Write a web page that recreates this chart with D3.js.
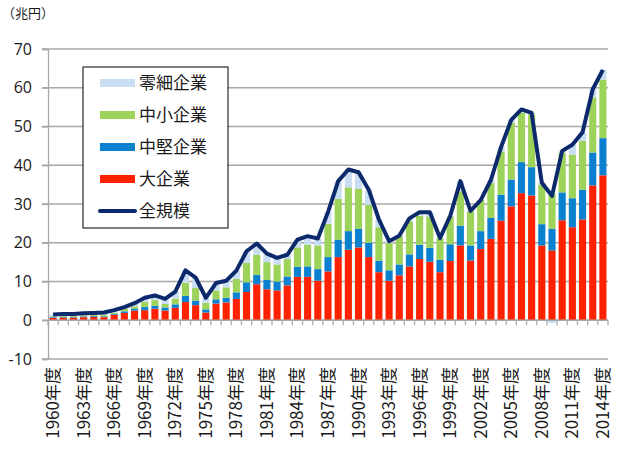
<!DOCTYPE html>
<html>
<head>
<meta charset="utf-8">
<script src="https://d3js.org/d3.v7.min.js"></script>
<style>
  body { margin: 0; background: #fff; }
  text { font-family: "Noto Sans CJK JP", "Noto Sans", sans-serif; fill: #1a1a1a; }
  .num { font-family: "Open Sans", "Noto Sans", sans-serif; }
</style>
</head>
<body>
<div id="chart"></div>
<script>
// fiscal years
const years = d3.range(1960, 2015);

// 兆円
const large = [0.6, 0.7, 0.7, 0.8, 0.9, 0.8, 1.4, 1.9, 2.5, 2.6,
  3.0, 2.5, 3.2, 4.7, 3.9, 2.0, 4.3, 4.6, 5.5, 7.3,
  9.3, 8.0, 7.7, 9.0, 11.2, 11.2, 10.2, 12.6, 16.3, 18.2,
  18.8, 16.3, 12.4, 10.2, 11.6, 13.9, 15.8, 15.1, 12.4, 15.3,
  19.3, 15.4, 18.4, 21.0, 25.7, 29.4, 32.8, 32.2, 19.3, 18.0,
  25.8, 24.0, 26.0, 34.8, 37.4];
const mid = [0.2, 0.2, 0.2, 0.2, 0.2, 0.2, 0.2, 0.4, 0.5, 0.8,
  0.7, 0.8, 0.9, 1.6, 1.2, 0.8, 1.1, 1.2, 1.7, 2.5,
  2.4, 2.4, 2.3, 2.3, 2.6, 2.7, 3.0, 3.7, 4.5, 4.8,
  4.8, 3.7, 3.0, 2.7, 2.8, 3.1, 3.7, 3.6, 3.2, 4.3,
  5.1, 3.9, 4.6, 5.4, 6.7, 6.9, 8.0, 7.3, 5.5, 5.6,
  7.2, 7.5, 7.7, 8.5, 9.6];
const small = [0.2, 0.2, 0.2, 0.3, 0.3, 0.4, 0.3, 0.6, 0.6, 1.3,
  1.5, 0.9, 1.5, 3.4, 3.2, 1.7, 2.3, 2.7, 3.5, 5.0,
  5.2, 4.6, 4.4, 4.5, 5.0, 5.6, 6.1, 8.6, 10.5, 11.3,
  10.3, 9.8, 8.6, 7.0, 7.3, 8.5, 7.5, 8.1, 5.5, 7.2,
  8.9, 8.8, 8.0, 9.0, 11.2, 14.6, 12.7, 13.6, 10.2, 9.2,
  10.2, 11.2, 12.6, 14.2, 15.1];
const micro = [0.5, 0.5, 0.5, 0.5, 0.5, 0.6, 0.7, 0.5, 0.8, 1.1,
  1.2, 1.3, 1.8, 3.2, 2.7, 1.3, 1.9, 1.7, 2.1, 3.0,
  2.9, 2.2, 1.7, 1.1, 2.0, 2.2, 1.8, 3.0, 4.6, 4.6,
  4.3, 3.9, 2.0, 0.5, 0.2, 0.8, 0.9, 1.1, 0.1, 0.1,
  2.6, 0.1, 0.0, 0.8, 1.1, 0.8, 0.9, 0.4, 0.5, -0.7,
  0.5, 2.6, 2.2, 2.1, 2.5];
const total = [1.5, 1.6, 1.6, 1.8, 1.9, 2.0, 2.6, 3.4, 4.4, 5.8,
  6.4, 5.5, 7.4, 12.9, 11.0, 5.8, 9.6, 10.2, 12.8, 17.8,
  19.8, 17.2, 16.1, 16.9, 20.8, 21.7, 21.1, 27.9, 35.9, 38.9,
  38.2, 33.7, 26.0, 20.4, 21.8, 26.3, 27.9, 27.9, 21.2, 26.9,
  35.9, 28.2, 31.0, 36.2, 44.7, 51.7, 54.4, 53.5, 35.5, 32.1,
  43.7, 45.3, 48.5, 59.6, 64.6];

const yTicks = [-10, 0, 10, 20, 30, 40, 50, 60, 70];
const keys = ['large', 'mid', 'small', 'micro'];
const names = { large: '大企業', mid: '中堅企業', small: '中小企業', micro: '零細企業' };
const colors = { large: '#ff2200', mid: '#0a80d0', small: '#9dd35a', micro: '#c9def2' };
const lineColor = '#0c2a6b';

const width = 620, height = 450;
const margin = { left: 48, right: 12, top: 49, bottom: 91 };

const svg = d3.select('#chart').append('svg')
    .attr('width', width)
    .attr('height', height);

const table = years.map((y, i) => ({
    year: y, large: large[i], mid: mid[i], small: small[i], micro: micro[i], total: total[i]
}));

const xScale = d3.scaleBand()
    .domain(years)
    .range([margin.left, width - margin.right])
    .paddingInner(0.3)
    .paddingOuter(0.15);

const yScale = d3.scaleLinear()
    .domain([-10, 70])
    .range([height - margin.bottom, margin.top]);

// gridlines
svg.append('g')
    .selectAll('line').data(yTicks)
    .enter().append('line')
    .attr('x1', margin.left - 6)
    .attr('x2', width - margin.right)
    .attr('y1', d => yScale(d))
    .attr('y2', d => yScale(d))
    .attr('stroke', '#a8a8a8')
    .attr('stroke-width', 1.3);

// y axis (plain hyphen for -10, like the original)
const yAxisG = svg.append('g')
    .attr('transform', `translate(${margin.left},0)`)
    .call(d3.axisLeft(yScale).tickValues(yTicks).tickSize(6).tickPadding(10).tickFormat(d => String(d)));
yAxisG.select('.domain').attr('stroke', '#a8a8a8').attr('stroke-width', 1.3);
yAxisG.selectAll('.tick line').attr('stroke', '#a8a8a8').attr('stroke-width', 1.3);
yAxisG.selectAll('.tick text')
    .attr('class', 'num')
    .style('font-size', '16px')
    .attr('fill', '#1a1a1a');

// stacked bars
const series = d3.stack()
    .keys(keys)
    .offset(d3.stackOffsetDiverging)(table);

svg.append('g')
    .selectAll('g').data(series)
    .enter().append('g')
    .attr('fill', d => colors[d.key])
    .selectAll('rect').data(d => d)
    .enter().append('rect')
    .attr('x', d => xScale(d.data.year))
    .attr('width', xScale.bandwidth())
    .attr('y', d => yScale(Math.max(d[0], d[1])))
    .attr('height', d => Math.abs(yScale(d[0]) - yScale(d[1])));

// zero axis with category ticks
const x0 = yScale(0);
const step = xScale.step();
const edges = years.map(y => xScale(y) - step * xScale.paddingInner() / 2).concat([width - margin.right]);
const xAxisG = svg.append('g');
xAxisG.append('line')
    .attr('x1', margin.left).attr('x2', width - margin.right)
    .attr('y1', x0).attr('y2', x0)
    .attr('stroke', '#a8a8a8').attr('stroke-width', 1.5);
xAxisG.selectAll('line.tk').data(edges)
    .enter().append('line')
    .attr('class', 'tk')
    .attr('x1', d => d).attr('x2', d => d)
    .attr('y1', x0).attr('y2', x0 + 5)
    .attr('stroke', '#a8a8a8').attr('stroke-width', 1.3);

// year labels every 3 years
svg.append('g')
    .selectAll('text').data(years.filter(y => (y - 1960) % 3 === 0))
    .enter().append('text')
    .attr('transform', d => `translate(${xScale(d) + xScale.bandwidth() / 2 + 6},${height - margin.bottom + 8}) rotate(-90)`)
    .attr('text-anchor', 'end')
    .style('font-size', '17px')
    .text(d => d + '年度');

// total line
const line = d3.line()
    .x(d => xScale(d.year) + xScale.bandwidth() / 2)
    .y(d => yScale(d.total));

svg.append('path')
    .datum(table)
    .attr('fill', 'none')
    .attr('stroke', lineColor)
    .attr('stroke-width', 4)
    .attr('stroke-linejoin', 'round')
    .attr('d', line);

// unit
svg.append('text')
    .attr('x', 2)
    .attr('y', 18)
    .style('font-size', '13px')
    .text('（兆円）');

// legend
const legend = svg.append('g').attr('transform', 'translate(83,67)');
legend.append('rect')
    .attr('width', 145).attr('height', 161)
    .attr('fill', '#fff').attr('stroke', '#000').attr('stroke-width', 1);

const legendItems = ['micro', 'small', 'mid', 'large', 'total'];
const row = legend.selectAll('g.item').data(legendItems)
    .enter().append('g')
    .attr('class', 'item')
    .attr('transform', (d, i) => `translate(0,${16 + i * 32})`);

row.filter(d => d !== 'total').append('rect')
    .attr('x', 17).attr('y', -4)
    .attr('width', 35).attr('height', 8)
    .attr('fill', d => colors[d]);

row.filter(d => d === 'total').append('line')
    .attr('x1', 17).attr('x2', 52)
    .attr('stroke', lineColor).attr('stroke-width', 4)
    .attr('stroke-linecap', 'round');

row.append('text')
    .attr('x', 56)
    .attr('dy', '0.36em')
    .style('font-size', '17px')
    .text(d => d === 'total' ? '全規模' : names[d]);
</script>
</body>
</html>
